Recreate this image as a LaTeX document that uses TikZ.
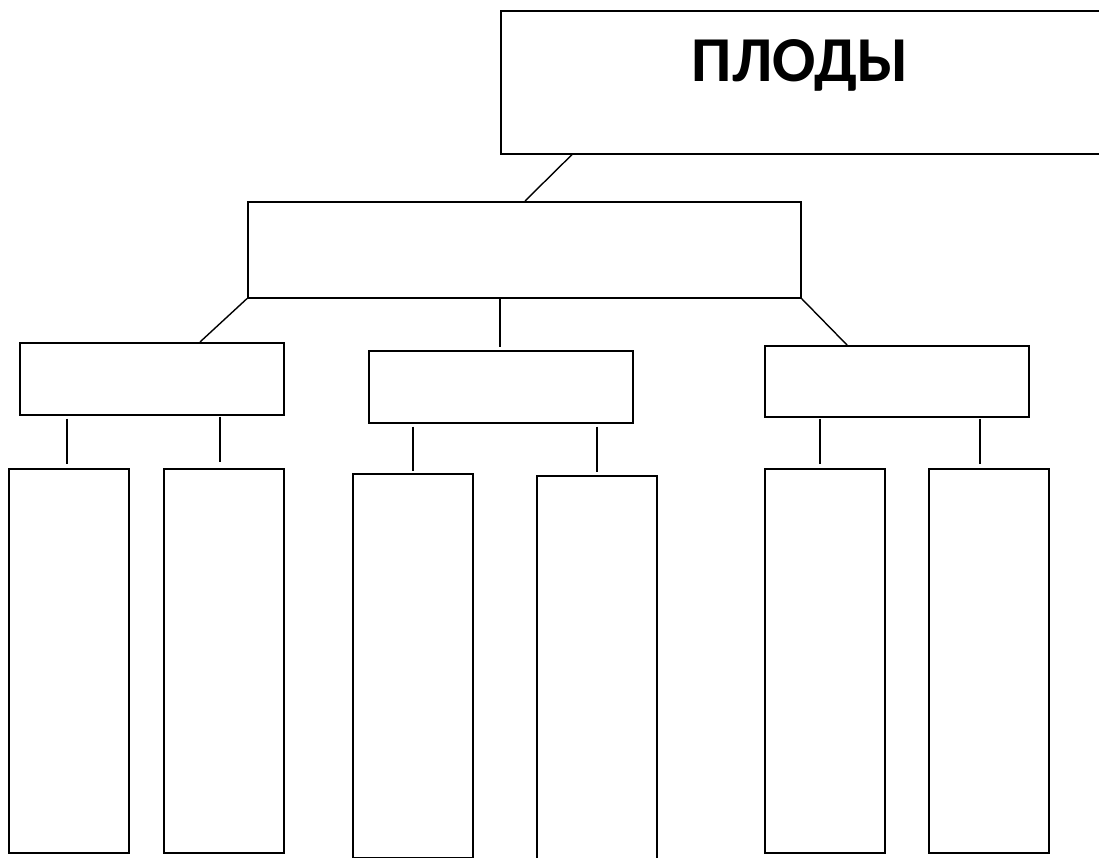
\documentclass[tikz,border=0pt]{standalone}
\usepackage{fontspec}
\setmainfont{Carlito}
\begin{document}
\begin{tikzpicture}[x=1pt,y=-1pt,
  box/.style={draw=black,line width=1.6pt,fill=white,inner sep=0pt,anchor=north west},
  conn/.style={draw=black,line width=1.4pt}]
\useasboundingbox (0,0) rectangle (1099,858);
\clip (0,0) rectangle (1099,858);
% top
\node[box,minimum width=620pt,minimum height=143pt] (top) at (500,10) {};
\node[font=\bfseries\fontsize{64}{70}\selectfont,inner sep=0pt] (title) at (800,65) {ПЛОДЫ};
% second level
\node[box,minimum width=553pt,minimum height=96pt] (mid) at (247,201) {};
% third level
\node[box,minimum width=264pt,minimum height=72pt] (gl) at (19,342) {};
\node[box,minimum width=264pt,minimum height=72pt] (gm) at (368,350) {};
\node[box,minimum width=264pt,minimum height=71pt] (gr) at (764,345) {};
% bottom level
\node[box,minimum width=120pt,minimum height=384pt] (b1) at (8,468) {};
\node[box,minimum width=120pt,minimum height=384pt] (b2) at (163,468) {};
\node[box,minimum width=120pt,minimum height=384pt] (b3) at (352,473) {};
\node[box,minimum width=120pt,minimum height=400pt] (b4) at (536,475) {};
\node[box,minimum width=120pt,minimum height=384pt] (b5) at (764,468) {};
\node[box,minimum width=120pt,minimum height=384pt] (b6) at (928,468) {};
% connectors
\draw[conn] ([xshift=72pt]top.south west) -- ([xshift=278pt]mid.north west);
\draw[conn] (mid.south west) -- ([xshift=181pt]gl.north west);
\draw[conn] ([xshift=253pt]mid.south west) -- ([xshift=132pt,yshift=3pt]gm.north west);
\draw[conn] (mid.south east) -- ([xshift=83pt]gr.north west);
\draw[conn] ([xshift=48pt,yshift=-3pt]gl.south west) -- ([xshift=59pt,yshift=4pt]b1.north west);
\draw[conn] ([xshift=201pt,yshift=-1pt]gl.south west) -- ([xshift=57pt,yshift=6pt]b2.north west);
\draw[conn] ([xshift=45pt,yshift=-3pt]gm.south west) -- ([xshift=61pt,yshift=2pt]b3.north west);
\draw[conn] ([xshift=229pt,yshift=-3pt]gm.south west) -- ([xshift=61pt,yshift=3pt]b4.north west);
\draw[conn] ([xshift=56pt,yshift=-1pt]gr.south west) -- ([xshift=56pt,yshift=4pt]b5.north west);
\draw[conn] ([xshift=216pt,yshift=-1pt]gr.south west) -- ([xshift=52pt,yshift=4pt]b6.north west);
\end{tikzpicture}
\end{document}
